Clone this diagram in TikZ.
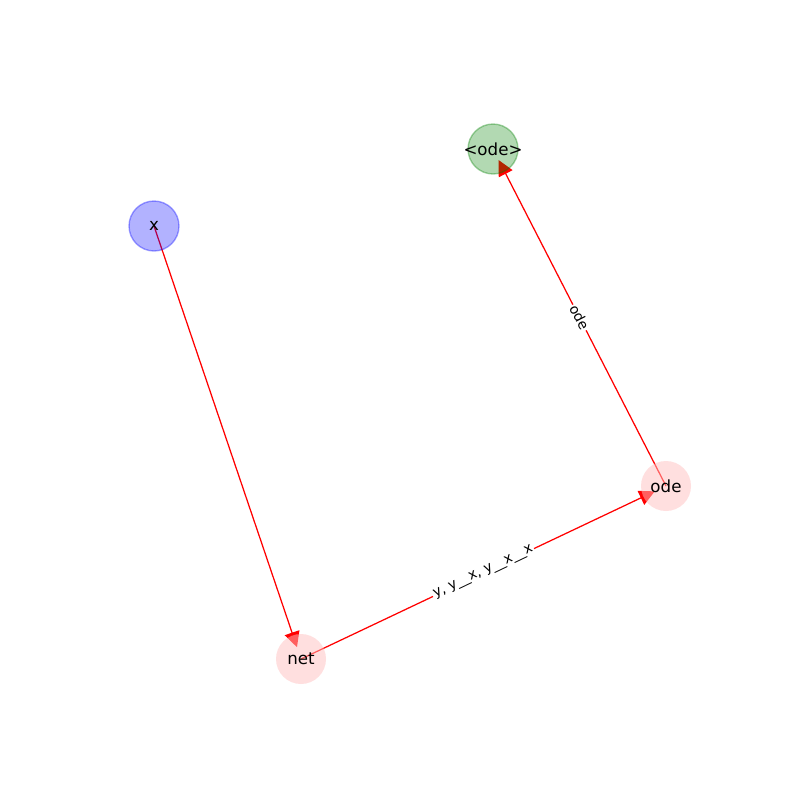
\documentclass[tikz,border=0pt]{standalone}
\usepackage{fontspec}
\setmainfont{DejaVu Sans}
\usetikzlibrary{arrows.meta,backgrounds}
\tikzset{
  vertex/.style={circle,minimum size=36pt,inner sep=0pt,
    text opacity=1,font=\fontsize{12}{14}\selectfont},
  source/.style={vertex,fill=blue,draw=blue,fill opacity=0.3,draw opacity=0.35,line width=1pt},
  sink/.style={vertex,fill=green!50!black,draw=green!50!black,fill opacity=0.3,draw opacity=0.35,line width=1pt},
  inner/.style={vertex,fill=pink,fill opacity=0.5},
  link/.style={draw=red,line width=0.9pt,shorten >=9pt,-{Triangle[length=11pt,width=11pt]}},
  linklabel/.style={sloped,fill=white,inner sep=1pt,text=black,
    font=\fontsize{10}{12}\selectfont}
}
\begin{document}
\begin{tikzpicture}[x=0.72pt,y=-0.72pt]
  \useasboundingbox (0,0) rectangle (800,800);
  \node[source] (x) at (154,226) {x};
  \node[sink] (odeout) at (493,149) {\makebox[0pt]{<ode>}};
  \node[inner] (ode) at (666,486) {ode};
  \node[inner] (net) at (301,659) {net};
  \begin{scope}[on background layer]
    \draw[link] (x.center) -- (net.center);
    \draw[link] (net.center) -- node[linklabel,pos=0.5] {y, y\_\_x, y\_\_x\_\_x} (ode.center);
    \draw[link] (ode.center) -- node[linklabel,pos=0.5] {ode} (odeout.center);
  \end{scope}
\end{tikzpicture}
\end{document}
